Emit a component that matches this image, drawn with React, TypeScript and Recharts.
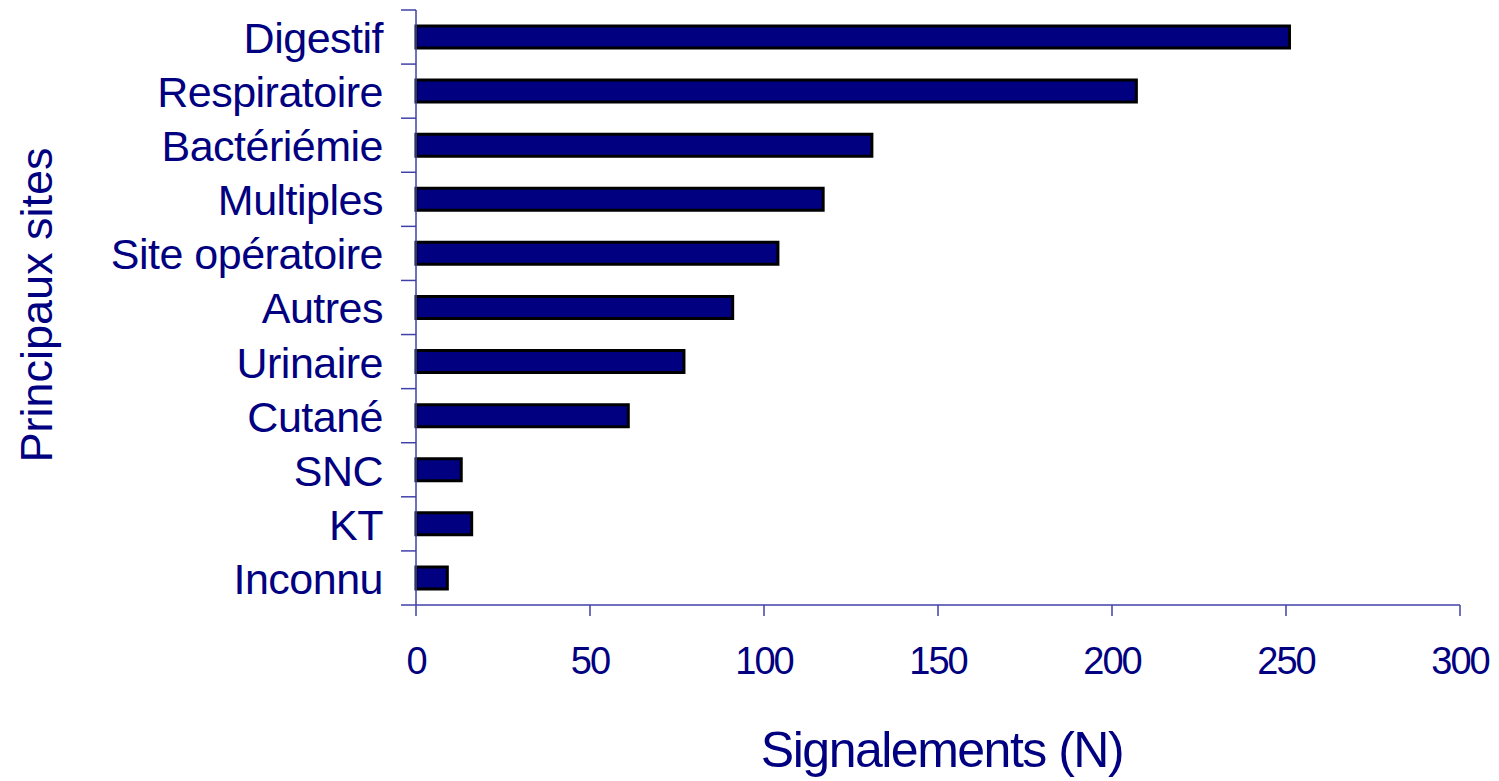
import React from "react";
import { BarChart, Bar, XAxis, YAxis, Label } from "recharts";

const sites = [
  "Digestif ",
  "Respiratoire",
  "Bactériémie",
  "Multiples",
  "Site opératoire",
  "Autres",
  "Urinaire",
  "Cutané",
  "SNC",
  "KT",
  "Inconnu"
];
const signalements = [251, 207, 131, 117, 104, 91, 77, 61, 13, 16, 9];
const xTicks = [0, 50, 100, 150, 200, 250, 300];

const data = sites.map((site, i) => ({ site, n: signalements[i] }));

const W = 1499;
const H = 781;
const TOP = 10;
const XAXIS_H = 176;
const band = (H - TOP - XAXIS_H) / sites.length;

const NAVY = "#000080";
const AXIS = "#4040a8";
const FONT = '"Liberation Sans", Arial, sans-serif';

// category labels, with the tick marks drawn between categories (Excel style)
const SiteTick = (props: any) => {
  const { x, y, payload, index } = props;
  const last = index === sites.length - 1;
  return (
    <g>
      <line x1={x + 18} x2={x + 33} y1={y - band / 2} y2={y - band / 2} stroke={AXIS} strokeWidth={1.5} />
      {last && (
        <line x1={x + 18} x2={x + 33} y1={y + band / 2} y2={y + band / 2} stroke={AXIS} strokeWidth={1.5} />
      )}
      <text
        x={x}
        y={y}
        dy="0.37em"
        textAnchor="end"
        fill={NAVY}
        fontSize={43}
        fontFamily={FONT}
        style={{ letterSpacing: -0.5 }}
      >
        {payload.value}
      </text>
    </g>
  );
};

export default function App() {
  return (
    <div style={{ position: "absolute", left: 0, top: 0, background: "#fff" }}>
      <BarChart
        width={W}
        height={H}
        data={data}
        layout="vertical"
        margin={{ top: TOP, right: 39, left: 0, bottom: 0 }}
        barCategoryGap={0}
      >
        <XAxis
          type="number"
          domain={[0, 300]}
          ticks={xTicks}
          height={XAXIS_H}
          tickSize={11}
          tickMargin={31}
          stroke={AXIS}
          axisLine={{ stroke: AXIS, strokeWidth: 1.5 }}
          tickLine={{ stroke: AXIS, strokeWidth: 1.5 }}
          tick={{ fill: NAVY, fontSize: 38, fontFamily: FONT, style: { letterSpacing: -2 } }}
        >
          <Label
            value="Signalements (N)"
            position="insideBottom"
            offset={14}
            fill={NAVY}
            fontSize={50}
            fontFamily={FONT}
            style={{ letterSpacing: -1.5 }}
            dx={4}
          />
        </XAxis>
        <YAxis
          type="category"
          dataKey="site"
          width={416}
          tickSize={15}
          tickMargin={18}
          axisLine={{ stroke: AXIS, strokeWidth: 1.5 }}
          tickLine={false}
          tick={<SiteTick />}
          interval={0}
        >
          <Label
            content={() => (
              <text
                x={52}
                y={305}
                transform="rotate(-90 52 305)"
                textAnchor="middle"
                fill={NAVY}
                fontSize={45}
                fontFamily={FONT}
              >
                Principaux sites
              </text>
            )}
          />
        </YAxis>
        <Bar
          dataKey="n"
          fill={NAVY}
          stroke="#000"
          strokeWidth={3}
          barSize={22}
          isAnimationActive={false}
        />
      </BarChart>
    </div>
  );
}
